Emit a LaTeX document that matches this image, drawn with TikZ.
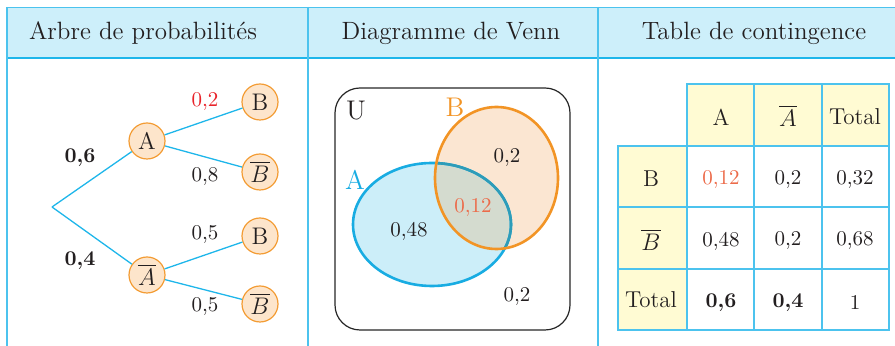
\documentclass[tikz,border=0pt]{standalone}
\usepackage{amsmath}
\begin{document}
\definecolor{hdrfill}{HTML}{CDEFFA}
\definecolor{lineblue}{HTML}{1EB6EA}
\definecolor{gridblue}{HTML}{4CC3EE}
\definecolor{nodefill}{HTML}{FDE5CB}
\definecolor{nodeline}{HTML}{F39C34}
\definecolor{vennA}{HTML}{CCEEF9}
\definecolor{vennAline}{HTML}{18ACE2}
\definecolor{vennB}{HTML}{FBE6D2}
\definecolor{vennBline}{HTML}{F29425}
\definecolor{vennAB}{HTML}{D4DBCF}
\definecolor{tealline}{HTML}{2E9CB8}
\definecolor{probred}{HTML}{E8232A}
\definecolor{probor}{HTML}{EC6B4A}
\definecolor{yellowcell}{HTML}{FFFBD3}
\definecolor{txt}{HTML}{231F20}
\begin{tikzpicture}[x=0.5pt,y=-0.5pt,
  hdr/.style={font=\fontsize{12.5}{14}\selectfont, text=txt},
  num/.style={font=\fontsize{10.5}{12}\selectfont, text=txt, inner sep=1pt},
  bnum/.style={font=\fontsize{10.5}{12}\selectfont\bfseries, text=txt, inner sep=1pt},
  evt/.style={circle, draw=nodeline, fill=nodefill, line width=0.6pt, minimum size=18pt, inner sep=0pt, font=\fontsize{12}{13}\selectfont, text=txt},
  branch/.style={draw=lineblue, line width=0.65pt},
  cell/.style={draw=gridblue, line width=0.8pt},
  ctext/.style={font=\fontsize{11.5}{12}\selectfont, text=txt},
  vlabel/.style={font=\fontsize{13.5}{14}\selectfont}
]
\useasboundingbox (0,0) rectangle (895,346);
% header band
\fill[hdrfill] (7,7) rectangle (895,58);
\draw[gridblue, line width=0.8pt] (7,7.5) -- (895,7.5);
\draw[lineblue, line width=0.8pt] (7,58) -- (895,58);
\foreach \xx in {7,307.5,597.5} \draw[gridblue, line width=1pt] (\xx,7) -- (\xx,346);
\node[hdr, anchor=west] (h1) at (22,33) {Arbre de probabilités};
\node[hdr] (h2) at (451,33) {Diagramme de Venn};
\node[hdr] (h3) at (754,33) {Table de contingence};

% ---------- tree ----------
\coordinate (root) at (52,207);
\node[evt] (A) at (147,141) {A};
\node[evt] (Ab) at (147,275) {$\overline{A}$};
\node[evt] (B1) at (260,102) {B};
\node[evt] (B1b) at (260,172) {$\overline{B}$};
\node[evt] (B2) at (260,236) {B};
\node[evt] (B2b) at (260,304) {$\overline{B}$};
\draw[branch] (root) -- (A);
\draw[branch] (root) -- (Ab);
\draw[branch] (A) -- (B1);
\draw[branch] (A) -- (B1b);
\draw[branch] (Ab) -- (B2);
\draw[branch] (Ab) -- (B2b);
\node[bnum] (p6) at (80,158) {0,6};
\node[bnum] (p4) at (80,261) {0,4};
\node[num, text=probred] (p2) at (205,102) {0,2};
\node[num] (p8) at (205,177) {0,8};
\node[num] (p5a) at (205,235) {0,5};
\node[num] (p5b) at (205,307) {0,5};

% ---------- Venn ----------
\draw[black!85, line width=0.6pt, rounded corners=12.5pt] (335,88) rectangle (570,330);
\node[vlabel, text=txt] (U) at (356,111) {U};
\fill[vennA] (432,224.5) ellipse [x radius=39.5pt, y radius=30.75pt];
\fill[vennB] (496.5,178) ellipse [x radius=30.75pt, y radius=35.5pt];
\begin{scope}
  \clip (432,224.5) ellipse [x radius=39.5pt, y radius=30.75pt];
  \fill[vennAB] (496.5,178) ellipse [x radius=30.75pt, y radius=35.5pt];
\end{scope}
\draw[vennAline, line width=1.3pt] (432,224.5) ellipse [x radius=39.5pt, y radius=30.75pt];
\begin{scope}
  \clip (496.5,178) ellipse [x radius=30.75pt, y radius=35.5pt];
  \draw[tealline, line width=1.3pt] (432,224.5) ellipse [x radius=39.5pt, y radius=30.75pt];
\end{scope}
\draw[vennBline, line width=1.3pt] (496.5,178) ellipse [x radius=30.75pt, y radius=35.5pt];
\node[vlabel, text=vennAline] (LA) at (355,180) {A};
\node[vlabel, text=vennBline] (LB) at (455,107) {B};
\node[num] (v1) at (507,158) {0,2};
\node[num, text=probor] (v2) at (473,208) {0,12};
\node[num] (v3) at (409,231) {0,48};
\node[num] (v4) at (517,297) {0,2};

% ---------- table ----------
\fill[yellowcell] (687,84) rectangle (889,146);
\fill[yellowcell] (618,146) rectangle (687,330);
\draw[cell] (687,84) rectangle (889,330);
\draw[cell] (618,146) rectangle (889,330);
\foreach \xx in {754,822} \draw[cell] (\xx,84) -- (\xx,330);
\foreach \yy in {207,269} \draw[cell] (618,\yy) -- (889,\yy);
\node[ctext] (tA) at (721,117) {A};
\node[ctext] (tAb) at (788,116) {$\overline{A}$};
\node[ctext] (tT) at (855,117) {Total};
\node[ctext] (tB) at (651,179) {B};
\node[num, text=probor] (c11) at (721,180) {0,12};
\node[num] (c12) at (788,180) {0,2};
\node[num] (c13) at (855,180) {0,32};
\node[ctext] (tBb) at (651,240) {$\overline{B}$};
\node[num] (c21) at (721,241) {0,48};
\node[num] (c22) at (788,241) {0,2};
\node[num] (c23) at (855,241) {0,68};
\node[ctext] (tT2) at (651,300) {Total};
\node[bnum] (c31) at (721,303) {0,6};
\node[bnum] (c32) at (788,303) {0,4};
\node[num] (c33) at (855,303) {1};
\end{tikzpicture}
\end{document}
